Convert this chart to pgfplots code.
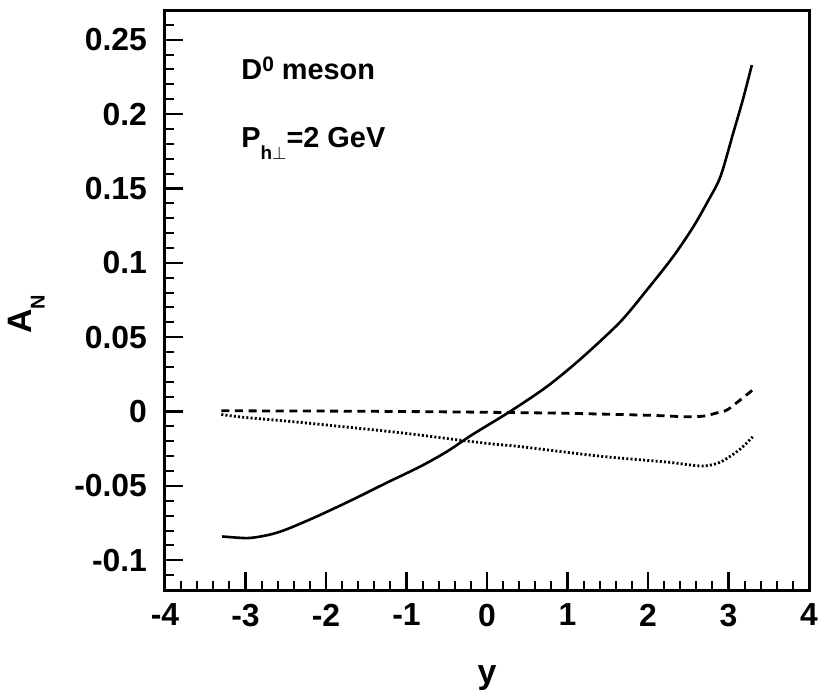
\documentclass[border=0pt]{standalone}
\usepackage{fontspec}
\setmainfont{Liberation Sans}
\usepackage{pgfplots}
\pgfplotsset{compat=1.18}
\begin{document}
\begin{tikzpicture}
\begin{axis}[
  at={(0,0)}, anchor=south west,
  scale only axis, width=322bp, height=290bp,
  xmin=-4, xmax=4, ymin=-0.12, ymax=0.27,
  axis line style={line width=1.5bp},
  tick align=inside, xtick pos=left, ytick pos=left,
  xtick={-4,-3,-2,-1,0,1,2,3,4},
  xticklabels={-4,-3,-2,-1,0,1,2,3,4},
  ytick={-0.1,-0.05,0,0.05,0.1,0.15,0.2,0.25},
  yticklabels={-0.1,-0.05,0,0.05,0.1,0.15,0.2,0.25},
  scaled y ticks=false,
  minor xtick={-3.8,-3.6,-3.4,-3.2,-2.8,-2.6,-2.4,-2.2,-1.8,-1.6,-1.4,-1.2,-0.8,-0.6,-0.4,-0.2,0.2,0.4,0.6,0.8,1.2,1.4,1.6,1.8,2.2,2.4,2.6,2.8,3.2,3.4,3.6,3.8},
  minor ytick={-0.11,-0.09,-0.08,-0.07,-0.06,-0.04,-0.03,-0.02,-0.01,0.01,0.02,0.03,0.04,0.06,0.07,0.08,0.09,0.11,0.12,0.13,0.14,0.16,0.17,0.18,0.19,0.21,0.22,0.23,0.24,0.26},
  major tick length=9bp, minor tick length=4.5bp,
  major tick style={line width=1.2bp, black},
  minor tick style={line width=1bp, black},
  ticklabel style={font=\fontsize{16}{16}\selectfont\bfseries},
  /pgf/number format/assume math mode=true,
  xticklabel style={yshift=-3.5bp},
  yticklabel style={xshift=-5.5bp},
  xlabel={\fontsize{17}{17}\selectfont\bfseries y},
  xlabel style={at={(axis description cs:0.5,-0.152)}, anchor=center},
  ylabel={\fontsize{17}{17}\selectfont\bfseries A\raisebox{-6.5bp}{\fontsize{10}{10}\selectfont\bfseries N}},
  ylabel style={at={(axis description cs:-0.215,0.475)}, anchor=center},
  clip=false,
]
\addplot[black, line width=1.3bp, smooth] coordinates {
(-3.29,-0.0840) (-3.1,-0.0848) (-2.94,-0.0850) (-2.7,-0.0828) (-2.48,-0.0790)
(-2.1,-0.0702) (-1.66,-0.0590) (-1.25,-0.0480) (-0.83,-0.0370) (-0.5,-0.0270)
(-0.21,-0.0165) (0.0,-0.0095) (0.3,0.0005) (0.745,0.0168) (1.155,0.035)
(1.65,0.060) (1.99,0.082) (2.31,0.104) (2.56,0.124) (2.75,0.142) (2.9,0.158)
(3.06,0.1875) (3.18,0.210) (3.29,0.233)
};
\addplot[black, line width=1.4bp, dash pattern=on 4bp off 2.8bp, smooth] coordinates {
(-3.3,0.0005) (-2,0.0003) (-1,0.0) (0,-0.0005) (1,-0.0012) (2,-0.0025)
(2.48,-0.0035) (2.7,-0.003) (2.85,-0.001) (2.98,0.001) (3.12,0.0067) (3.3,0.0145)
};
\addplot[black, line width=1.4bp, dash pattern=on 1bp off 1.1bp, smooth] coordinates {
(-3.3,-0.002) (-3.0,-0.004) (-2.3,-0.0074) (-1.1,-0.0141) (-0.3,-0.0195)
(0.1,-0.022) (0.4,-0.0235) (1.4,-0.030) (2.24,-0.034) (2.5,-0.0358) (2.7,-0.0366)
(2.9,-0.034) (3.14,-0.0255) (3.3,-0.017)
};
\node[anchor=base west, inner sep=0, font=\fontsize{14.5}{14.5}\selectfont\bfseries]
  at (axis cs:-3.056,0.2231) {D\raisebox{4bp}{\fontsize{10.5}{10.5}\selectfont\bfseries 0} meson};
\node[anchor=base west, inner sep=0, font=\fontsize{14.5}{14.5}\selectfont\bfseries]
  at (axis cs:-3.056,0.1774) {P\raisebox{-6bp}{\fontsize{9.5}{9.5}\selectfont\bfseries h$\perp$}=2 GeV};
\end{axis}
\pgfresetboundingbox
\path[use as bounding box] (-82.5bp,-50.5bp) rectangle (327.5bp,295bp);
\end{tikzpicture}
\end{document}
